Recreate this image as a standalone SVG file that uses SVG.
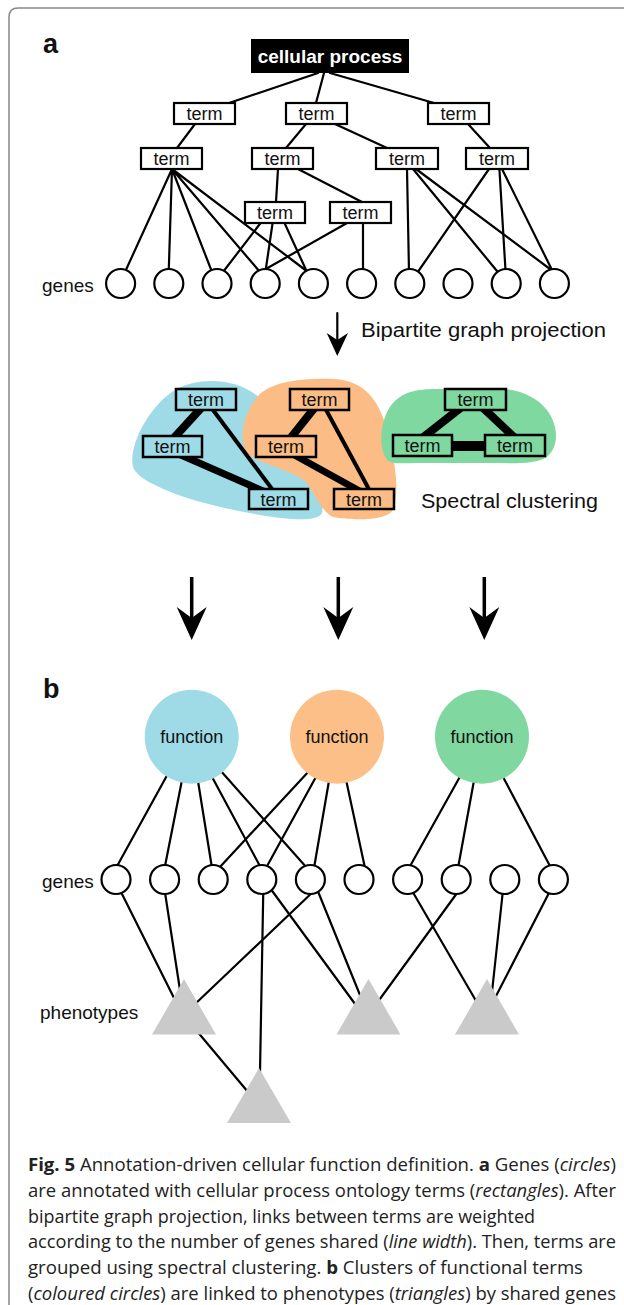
<svg xmlns="http://www.w3.org/2000/svg" xmlns:xlink="http://www.w3.org/1999/xlink" width="624" height="1305" viewBox="0 0 624 1305">
<style>
.t{font-family:"Liberation Sans",Arial,sans-serif;fill:#111}
.term{font-family:"Liberation Sans",Arial,sans-serif;font-size:18px;fill:#111;text-anchor:middle}
.box{fill:#fff;stroke:#000;stroke-width:2.2}
.cb{stroke:#000;stroke-width:2.5}
.ln{stroke:#000;stroke-width:2.2;fill:none;stroke-linecap:round}
.gene{fill:#fff;stroke:#000;stroke-width:2.2}
.tri{fill:#c9cac9}
.cap{font-family:"Open Sans","Noto Sans",sans-serif;font-size:18px;fill:#222}
.lbl{font-family:"Liberation Sans",Arial,sans-serif;font-size:19px;fill:#111}
</style>
<defs>
<path id="bighead" d="M-15,0 L0,33 L15,0 L0,11 Z" fill="#000"/>
</defs>
<rect width="624" height="1305" fill="#fff"/>
<path d="M9,1305 V17 Q9,8 18,8 H624" fill="none" stroke="#888" stroke-width="1.5"/>
<text class="t" x="43" y="53" font-size="27" font-weight="bold">a</text>
<text class="t" x="43" y="698" font-size="27" font-weight="bold">b</text>

<!-- blobs -->
<g id="clusters">
<path id="blob-blue" d="M133,467 C128,445 150,405 175,390 C200,376 240,378 262,400 L300,440 C315,465 325,495 322,513 C318,522 290,520 260,515 C220,508 180,498 155,485 C140,478 135,472 133,467 Z" fill="#9fdbe6"/>
<path id="blob-orange" d="M247,453 C238,440 243,415 257,397 C270,382 300,378 333,379 C360,380 378,395 387,430 C395,460 400,490 393,510 C385,522 350,520 333,517 C322,512 315,495 307,483 C295,470 260,465 247,453 Z" fill="#fbbd85"/>
<path id="blob-green" d="M390,462 C378,455 378,420 393,403 C405,390 420,389 440,389 L490,388 C515,388 535,395 547,410 C558,425 560,445 547,457 C535,465 510,463 490,463 L420,463 C405,463 395,464 390,462 Z" fill="#7fd8a0"/>
</g>

<g id="connectors">
<!-- a: tree -->
<path class="ln" d="M318,73 L229,103 M324,73 L316,103 M330,73 L434,103"/>
<path class="ln" d="M195,124 L177,148 M306,124 L286,148 M335,124 L387,148 M468,124 L490,148"/>
<path class="ln" d="M278,169 L276,202 M298,169 L362,202"/>
<path class="ln" d="M172,169 L125,272 M172,169 L168.7,272 M172,169 L212,272 M172,169 L260,272 M172,169 L308,272"/>
<path class="ln" d="M260.6,223 L223,272 M272.6,223 L265.4,272 M284.5,223 L307,272"/>
<path class="ln" d="M347,223 L260.5,272 M363,223 L363,272"/>
<path class="ln" d="M407,169 L409,272 M413,169 L497.8,272 M416,169 L554,272"/>
<path class="ln" d="M489,169 L417.8,272 M499.4,169 L505.6,272 M502,169 L553,272"/>
<!-- projection arrow -->
<path class="ln" d="M337.3,313 L337.3,340" stroke-width="2.6"/>
<path d="M326.7,333 L337.3,356 L348,333 L337.3,340 Z" fill="#000"/>
<!-- cluster edges -->
<g stroke="#000" stroke-linecap="butt">
<path d="M203,406 L172,440" stroke-width="8"/>
<path d="M210,406 L275,493" stroke-width="4"/>
<path d="M174,452 L270,494" stroke-width="7"/>
<path d="M316,406 L289,440" stroke-width="8"/>
<path d="M324,406 L371,493" stroke-width="4"/>
<path d="M289,452 L365,494" stroke-width="7"/>
<path d="M463,406 L421,439" stroke-width="8"/>
<path d="M481,406 L516,439" stroke-width="8"/>
<path d="M448,446 L489,446" stroke-width="10"/>
</g>
<!-- big arrows -->
<g>
<path d="M191.7,577 V620" stroke="#000" stroke-width="3.5"/>
<use xlink:href="#bighead" x="191.7" y="607"/>
<path d="M338.3,577 V620" stroke="#000" stroke-width="3.5"/>
<use xlink:href="#bighead" x="338.3" y="607"/>
<path d="M484.3,577 V620" stroke="#000" stroke-width="3.5"/>
<use xlink:href="#bighead" x="484.3" y="607"/>
</g>
<!-- b: function to genes -->
<path class="ln" d="M170,770 L116,868 M183,775 L164.6,868 M197,775 L212,868 M211,775 L261,868 M220,770 L307,868"/>
<path class="ln" d="M310,770 L219,868 M317,775 L266,868 M330,775 L314,868 M345,775 L365,868"/>
<path class="ln" d="M462,773 L409,868 M475,775 L458,868 M502,775 L551,868"/>
<!-- b: genes to phenotypes -->
<path class="ln" d="M119,888 L176,1002 M164.6,890 L180,990 M316,889 L193,1006"/>
<path class="ln" d="M263.3,890 L260,1072 M270,888 L358,1008 M317,889 L362,1000"/>
<path class="ln" d="M460,889 L377,1003 M411,889 L479,1006 M503,890 L492,992 M551,889 L494,1000"/>
<path class="ln" d="M196,1030 L248,1092"/>
</g>

<!-- a: tree nodes -->
<g id="root"><rect x="251" y="39" width="158" height="34" fill="#000"/><text x="330" y="63" text-anchor="middle" font-family="Liberation Sans,Arial,sans-serif" font-size="19" font-weight="bold" fill="#fff">cellular process</text></g>
<g id="t1a"><rect class="box" x="174" y="103" width="61" height="21"/><text class="term" x="204.5" y="120">term</text></g>
<g id="t1b"><rect class="box" x="286" y="103" width="61" height="21"/><text class="term" x="316.5" y="120">term</text></g>
<g id="t1c"><rect class="box" x="428" y="103" width="61" height="21"/><text class="term" x="458.5" y="120">term</text></g>
<g id="t2a"><rect class="box" x="141" y="148" width="61" height="21"/><text class="term" x="171.5" y="165">term</text></g>
<g id="t2b"><rect class="box" x="252" y="148" width="61" height="21"/><text class="term" x="282.5" y="165">term</text></g>
<g id="t2c"><rect class="box" x="376" y="148" width="62" height="21"/><text class="term" x="407" y="165">term</text></g>
<g id="t2d"><rect class="box" x="466" y="148" width="62" height="21"/><text class="term" x="497" y="165">term</text></g>
<g id="t3a"><rect class="box" x="245" y="202" width="60" height="21"/><text class="term" x="275" y="219">term</text></g>
<g id="t3b"><rect class="box" x="330" y="202" width="61" height="21"/><text class="term" x="360.5" y="219">term</text></g>

<text class="lbl" x="42" y="292">genes</text>
<g id="genes-a">
<circle class="gene" cx="120.6" cy="283.5" r="14.5"/>
<circle class="gene" cx="168.8" cy="283.5" r="14.5"/>
<circle class="gene" cx="217" cy="283.5" r="14.5"/>
<circle class="gene" cx="265.2" cy="283.5" r="14.5"/>
<circle class="gene" cx="313.4" cy="283.5" r="14.5"/>
<circle class="gene" cx="361.6" cy="283.5" r="14.5"/>
<circle class="gene" cx="409.8" cy="283.5" r="14.5"/>
<circle class="gene" cx="458" cy="283.5" r="14.5"/>
<circle class="gene" cx="506.2" cy="283.5" r="14.5"/>
<circle class="gene" cx="554.4" cy="283.5" r="14.5"/>
</g>

<text class="t" x="361" y="337" font-size="20.5" textLength="245" lengthAdjust="spacingAndGlyphs">Bipartite graph projection</text>

<!-- cluster terms -->
<g id="c-blue-1"><rect class="cb" x="176" y="389" width="60" height="21" fill="#9fdbe6"/><text class="term" x="206" y="406">term</text></g>
<g id="c-blue-2"><rect class="cb" x="143" y="436" width="59" height="21" fill="#9fdbe6"/><text class="term" x="172.5" y="453">term</text></g>
<g id="c-blue-3"><rect class="cb" x="249" y="489" width="59" height="20" fill="#9fdbe6"/><text class="term" x="278.5" y="505.5">term</text></g>
<g id="c-orange-1"><rect class="cb" x="290" y="389" width="59" height="21" fill="#fbbd85"/><text class="term" x="319.5" y="406">term</text></g>
<g id="c-orange-2"><rect class="cb" x="256" y="436" width="60" height="21" fill="#fbbd85"/><text class="term" x="286" y="453">term</text></g>
<g id="c-orange-3"><rect class="cb" x="334" y="489" width="60" height="20" fill="#fbbd85"/><text class="term" x="364" y="505.5">term</text></g>
<g id="c-green-1"><rect class="cb" x="445" y="389" width="61" height="21" fill="#7fd8a0"/><text class="term" x="475.5" y="406">term</text></g>
<g id="c-green-2"><rect class="cb" x="393" y="435" width="59" height="21" fill="#7fd8a0"/><text class="term" x="422.5" y="452">term</text></g>
<g id="c-green-3"><rect class="cb" x="485" y="435" width="60" height="21" fill="#7fd8a0"/><text class="term" x="515" y="452">term</text></g>

<text class="t" x="421" y="508" font-size="20.5" textLength="177" lengthAdjust="spacingAndGlyphs">Spectral clustering</text>

<!-- b -->
<g id="f-blue"><circle cx="191.7" cy="736.7" r="47" fill="#9fdbe6"/><text class="term" x="191.7" y="742.5">function</text></g>
<g id="f-orange"><circle cx="337" cy="736.7" r="47" fill="#fbbf87"/><text class="term" x="337" y="742.5">function</text></g>
<g id="f-green"><circle cx="482" cy="736.7" r="47" fill="#80d8a0"/><text class="term" x="482" y="742.5">function</text></g>

<text class="lbl" x="42" y="888">genes</text>
<g id="genes-b">
<circle class="gene" cx="116" cy="879.5" r="14.5"/>
<circle class="gene" cx="164.6" cy="879.5" r="14.5"/>
<circle class="gene" cx="213.2" cy="879.5" r="14.5"/>
<circle class="gene" cx="261.8" cy="879.5" r="14.5"/>
<circle class="gene" cx="310.4" cy="879.5" r="14.5"/>
<circle class="gene" cx="359" cy="879.5" r="14.5"/>
<circle class="gene" cx="407.6" cy="879.5" r="14.5"/>
<circle class="gene" cx="456.2" cy="879.5" r="14.5"/>
<circle class="gene" cx="504.8" cy="879.5" r="14.5"/>
<circle class="gene" cx="553.4" cy="879.5" r="14.5"/>
</g>

<text class="lbl" x="40" y="1019">phenotypes</text>
<g id="phenotypes">
<polygon class="tri" points="184,979 216,1034.5 152,1034.5"/>
<polygon class="tri" points="368.5,979 400.5,1034.5 336.5,1034.5"/>
<polygon class="tri" points="487,979 519,1034.5 455,1034.5"/>
<polygon class="tri" points="259,1068 291,1123 227,1123"/>
</g>

<!-- caption -->
<g id="caption" class="cap">
<text x="28" y="1171" textLength="588" lengthAdjust="spacingAndGlyphs"><tspan font-weight="bold">Fig. 5</tspan> Annotation-driven cellular function definition. <tspan font-weight="bold">a</tspan> Genes (<tspan font-style="italic">circles</tspan>)</text>
<text x="28" y="1196.8" textLength="588" lengthAdjust="spacingAndGlyphs">are annotated with cellular process ontology terms (<tspan font-style="italic">rectangles</tspan>). After</text>
<text x="28" y="1222.6" textLength="507" lengthAdjust="spacingAndGlyphs">bipartite graph projection, links between terms are weighted</text>
<text x="28" y="1248.4" textLength="588" lengthAdjust="spacingAndGlyphs">according to the number of genes shared (<tspan font-style="italic">line width</tspan>). Then, terms are</text>
<text x="28" y="1274.2" textLength="555" lengthAdjust="spacingAndGlyphs">grouped using spectral clustering. <tspan font-weight="bold">b</tspan> Clusters of functional terms</text>
<text x="28" y="1299.5" textLength="588" lengthAdjust="spacingAndGlyphs">(<tspan font-style="italic">coloured circles</tspan>) are linked to phenotypes (<tspan font-style="italic">triangles</tspan>) by shared genes</text>
</g>
</svg>
